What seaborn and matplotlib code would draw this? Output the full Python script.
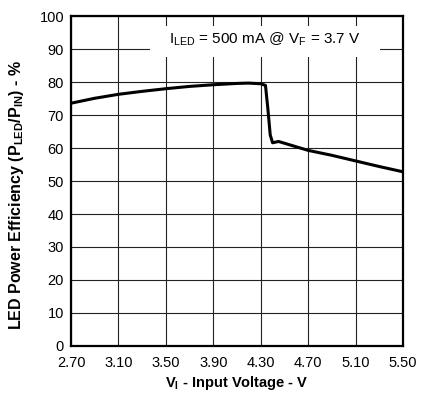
import matplotlib
matplotlib.use("Agg")
import matplotlib.pyplot as plt
from matplotlib.patches import Rectangle
import seaborn as sns
import pandas as pd

voltage = [2.70, 2.90, 3.10, 3.30, 3.50, 3.70, 3.90, 4.10, 4.20, 4.30, 4.34, 4.36, 4.38, 4.40, 4.45, 4.70, 4.90, 5.10, 5.30, 5.50]
efficiency = [73.6, 75.1, 76.3, 77.2, 78.0, 78.7, 79.2, 79.6, 79.7, 79.5, 79.0, 72.0, 64.0, 61.6, 62.0, 59.3, 57.8, 56.1, 54.4, 52.8]
x_ticks = [2.70, 3.10, 3.50, 3.90, 4.30, 4.70, 5.10, 5.50]
y_ticks = [0, 10, 20, 30, 40, 50, 60, 70, 80, 90, 100]
annotation = r"I$_{\mathregular{LED}}$ = 500 mA @ V$_{\mathregular{F}}$ = 3.7 V"

sns.set_theme(style="white")
plt.rcParams['font.family'] = ['Liberation Sans', 'DejaVu Sans']
plt.rcParams['mathtext.fontset'] = 'custom'
plt.rcParams['mathtext.rm'] = 'Liberation Sans'
plt.rcParams['mathtext.bf'] = 'Liberation Sans:bold'
plt.rcParams['text.color'] = 'black'
plt.rcParams['axes.labelcolor'] = 'black'

df = pd.DataFrame({"V": voltage, "Eff": efficiency})

fig = plt.figure(figsize=(4.24, 3.94), dpi=100)
ax = fig.add_axes([0.1675, 0.122, 0.783, 0.837])
ax.set_xlim(2.70, 5.50)
ax.set_ylim(0, 100)
ax.set_xticks(x_ticks)
ax.set_xticklabels([f"{t:.2f}" for t in x_ticks])
ax.set_yticks(y_ticks)
ax.grid(True, color="#222222", linewidth=0.8)
ax.set_axisbelow(True)

# white box behind the annotation, interrupting the grid
ax.add_patch(Rectangle((3.366, 87.6), 1.94, 9.4, facecolor="white", edgecolor="none", zorder=1.5))

sns.lineplot(data=df, x="V", y="Eff", ax=ax, color="black", linewidth=2.2, estimator=None, sort=False, zorder=3)

for s in ax.spines.values():
    s.set_color("black")
    s.set_linewidth(1.6)
ax.tick_params(axis="both", labelsize=10.5, length=0, colors="black")
ax.tick_params(axis="x", pad=7)
ax.tick_params(axis="y", pad=5)

ax.set_xlabel(r"V$_{\mathregular{I}}$ - Input Voltage - V", fontsize=10.5, fontweight="bold", labelpad=3, color="black")
ax.set_ylabel(r"LED Power Efficiency (P$_{\mathregular{LED}}$/P$_{\mathregular{IN}}$) - %", fontsize=11.5, fontweight="bold", color="black")
ax.yaxis.set_label_coords(-0.137, 0.458)

ax.text(4.336, 93.0, annotation, fontsize=11, ha="center", va="center", zorder=4, color="black")

fig.savefig("out.png", dpi=100)
